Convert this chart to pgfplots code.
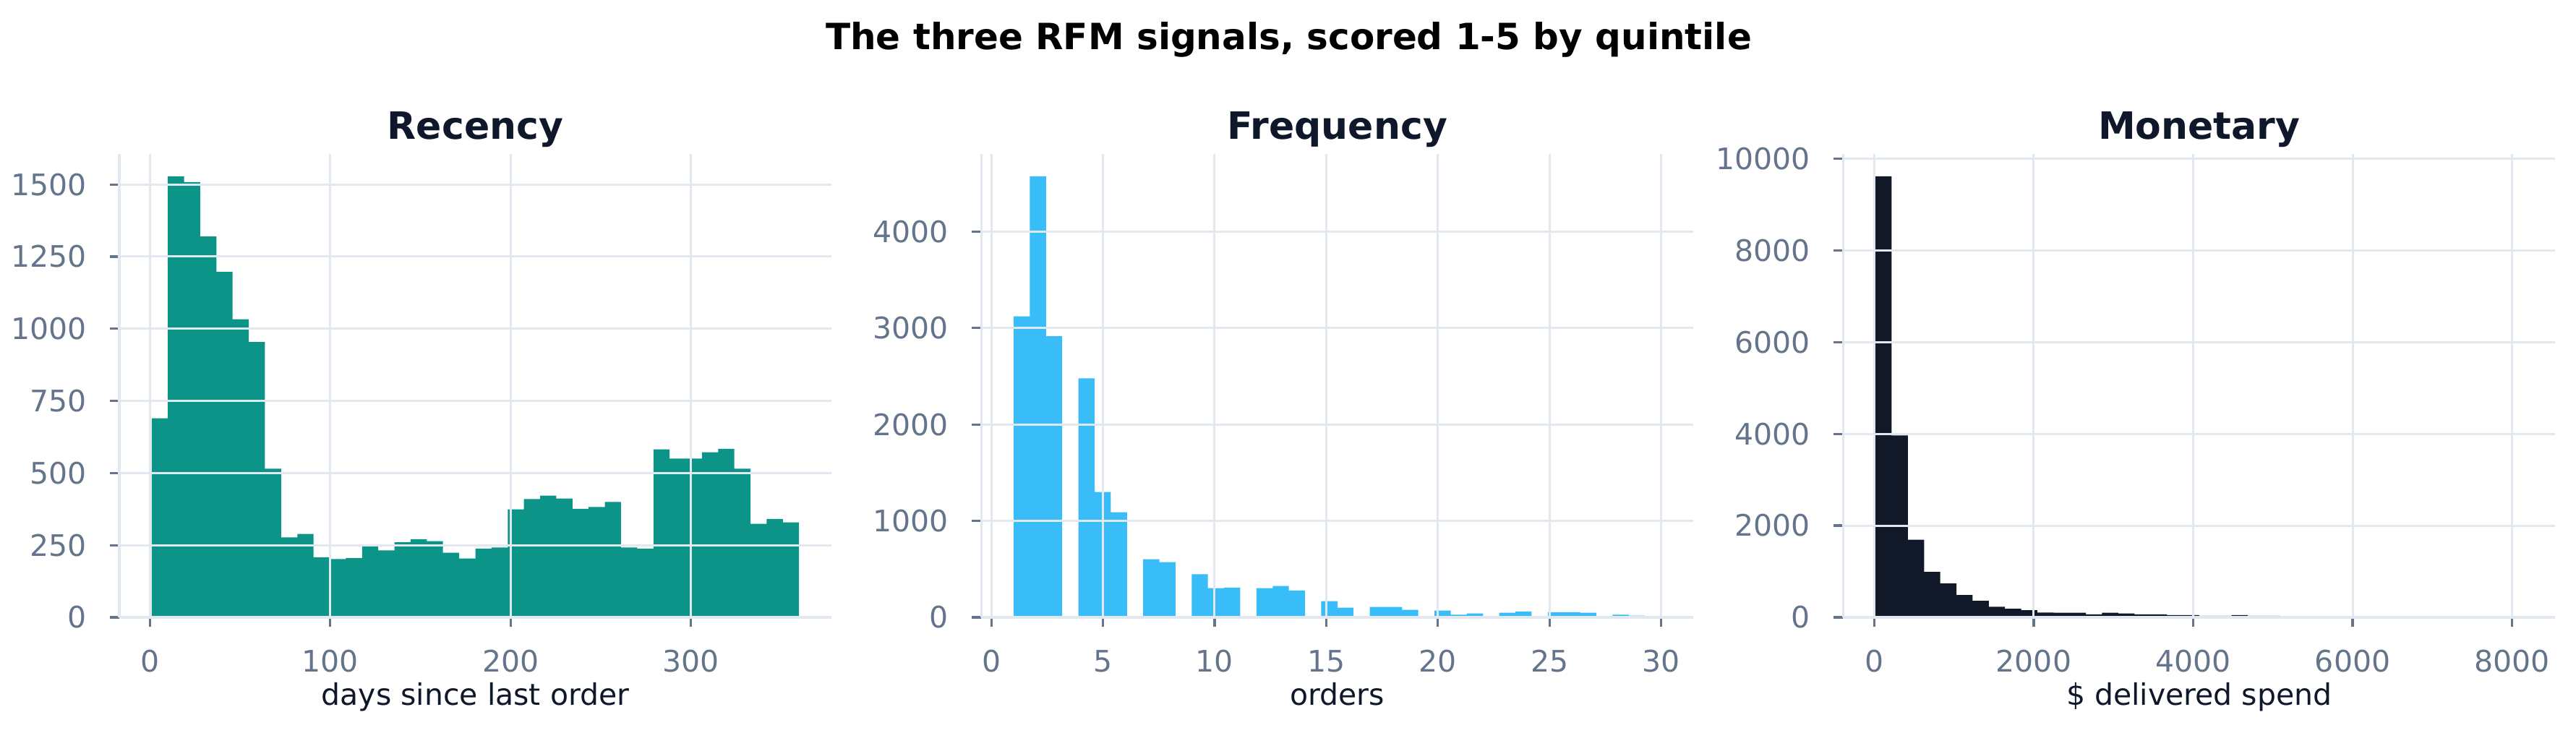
\documentclass[border=0pt]{standalone}
\usepackage{fontspec}
\setmainfont{DejaVu Sans}
\usepackage{pgfplots}
\pgfplotsset{compat=1.18}

\definecolor{recc}{HTML}{0D9488}
\definecolor{frqc}{HTML}{38BDF8}
\definecolor{monc}{HTML}{111827}
\definecolor{gridc}{HTML}{E2E8F0}
\definecolor{tickc}{HTML}{64748B}
\definecolor{titlec}{HTML}{0F172A}

\pgfplotsset{
	rfm/.style={
		scale only axis,
		width=197pt, height=128.1pt,
		anchor=south west,
		axis on top,
		axis x line*=bottom, axis y line*=left,
		axis line style={-, draw=gridc, line width=0.65pt},
		grid=major,
		major grid style={draw=gridc, line width=0.6pt},
		tick align=outside,
		major tick length=2.7pt,
		tick style={draw=tickc, line width=0.65pt},
		minor tick num=0,
		scaled ticks=false,
		enlargelimits=false,
		ymin=0,
		/pgf/number format/assume math mode=true,
		/pgf/number format/1000 sep={},
		tick label style={font=\fontsize{8.2}{9.8}\selectfont, text=tickc, inner sep=0pt},
		xticklabel style={anchor=base, yshift=-12.4pt},
		yticklabel style={anchor=east, xshift=-6.2pt},
		label style={font=\fontsize{8.2}{9.8}\selectfont, text=titlec},
		xlabel style={at={(axis description cs:0.5,0)}, anchor=base, yshift=-24.4pt},
		title style={at={(axis description cs:0.5,1)}, anchor=base, yshift=-1.8pt,
			font=\fontsize{10.4}{12.5}\selectfont\bfseries, text=titlec},
	},
}

\begin{document}
\begin{tikzpicture}
\useasboundingbox (0,0) rectangle (712.6pt,202.8pt);

\node[anchor=base, font=\fontsize{10}{12}\selectfont\bfseries, text=black]
	at (356.5pt,189.1pt) {The three RFM signals, scored 1-5 by quintile};

% Recency
\begin{axis}[rfm,
	at={(33pt,32pt)},
	title={Recency},
	xlabel={days since last order},
	xmin=-16.95, xmax=377.95,
	ymax=1604.4,
	xtick={0,100,200,300},
	ytick={0,250,500,750,1000,1250,1500},
]
\addplot[ybar interval, fill=recc, draw=none] coordinates {
	(1,690) (9.975,1528) (18.95,1508) (27.925,1320) (36.9,1197)
	(45.875,1033) (54.85,954) (63.825,515) (72.8,277) (81.775,289)
	(90.75,208) (99.725,202) (108.7,206) (117.675,250) (126.65,232)
	(135.625,260) (144.6,271) (153.575,264) (162.55,224) (171.525,204)
	(180.5,238) (189.475,242) (198.45,374) (207.425,410) (216.4,422)
	(225.375,412) (234.35,376) (243.325,382) (252.3,400) (261.275,242)
	(270.25,238) (279.225,582) (288.2,550) (297.175,550) (306.15,572)
	(315.125,584) (324.1,515) (333.075,324) (342.05,341) (351.025,329)
	(360,329)
};
\end{axis}

% Frequency
\begin{axis}[rfm,
	at={(271.46pt,32pt)},
	title={Frequency},
	xlabel={orders},
	xmin=-0.45, xmax=31.45,
	ymax=4801.7,
	xtick={0,5,10,15,20,25,30},
	ytick={0,1000,2000,3000,4000},
]
\addplot[ybar interval, fill=frqc, draw=none] coordinates {
	(1,3122) (1.725,4573) (2.45,2915) (3.175,0) (3.9,2479)
	(4.625,1300) (5.35,1089) (6.075,0) (6.8,603) (7.525,573)
	(8.25,0) (8.975,446) (9.7,302) (10.425,308) (11.15,0)
	(11.875,302) (12.6,325) (13.325,278) (14.05,0) (14.775,168)
	(15.5,100) (16.225,0) (16.95,107) (17.675,107) (18.4,77)
	(19.125,0) (19.85,70) (20.575,27) (21.3,40) (22.025,0)
	(22.75,47) (23.475,60) (24.2,0) (24.925,54) (25.65,54)
	(26.375,47) (27.1,0) (27.825,27) (28.55,17) (29.275,5)
	(30,5)
};
\end{axis}

% Monetary
\begin{axis}[rfm,
	at={(509.86pt,32pt)},
	title={Monetary},
	xlabel={\$ delivered spend},
	xmin=-391, xmax=8541,
	ymax=10093.7,
	xtick={0,2000,4000,6000,8000},
	ytick={0,2000,4000,6000,8000,10000},
]
\addplot[ybar interval, fill=monc, draw=none] coordinates {
	(15,9613) (218,3965) (421,1690) (624,990) (827,740)
	(1030,485) (1233,360) (1436,232) (1639,185) (1842,155)
	(2045,105) (2248,102) (2451,100) (2654,65) (2857,99)
	(3060,85) (3263,63) (3466,63) (3669,49) (3872,49)
	(4075,35) (4278,35) (4481,49) (4684,35) (4887,35)
	(5090,21) (5293,12) (5496,9) (5699,7) (5902,5)
	(6105,4) (6308,3) (6511,2) (6714,2) (6917,1)
	(7120,1) (7323,1) (7526,0) (7729,0) (7932,1)
	(8135,1)
};
\end{axis}
\end{tikzpicture}
\end{document}
